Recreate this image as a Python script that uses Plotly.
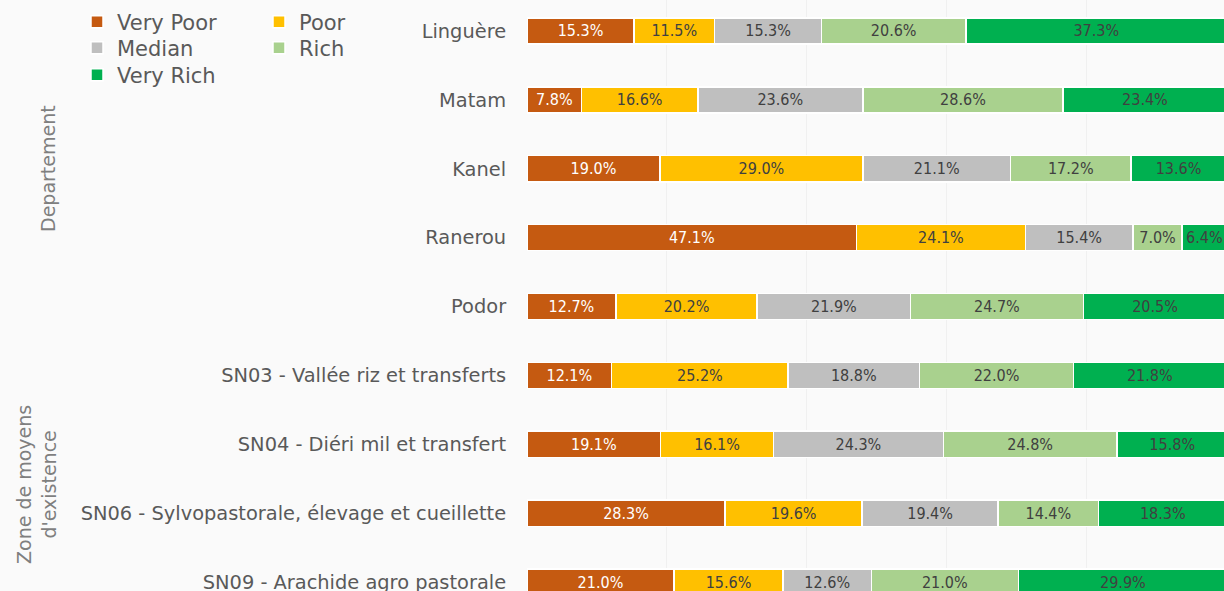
import plotly.graph_objects as go

categories = [
    "Linguère", "Matam", "Kanel", "Ranerou", "Podor",
    "SN03 - Vallée riz et transferts",
    "SN04 - Diéri mil et transfert",
    "SN06 - Sylvopastorale, élevage et cueillette",
    "SN09 - Arachide agro pastorale",
]
very_poor = [15.3, 7.8, 19.0, 47.1, 12.7, 12.1, 19.1, 28.3, 21.0]
poor      = [11.5, 16.6, 29.0, 24.1, 20.2, 25.2, 16.1, 19.6, 15.6]
median    = [15.3, 23.6, 21.1, 15.4, 21.9, 18.8, 24.3, 19.4, 12.6]
rich      = [20.6, 28.6, 17.2, 7.0, 24.7, 22.0, 24.8, 14.4, 21.0]
very_rich = [37.3, 23.4, 13.6, 6.4, 20.5, 21.8, 15.8, 18.3, 29.9]

series_names = ["Very Poor", "Poor", "Median", "Rich", "Very Rich"]
series_values = [very_poor, poor, median, rich, very_rich]
colors = ["#C55A11", "#FFC000", "#BFBFBF", "#A9D18E", "#00B050"]
label_colors = ["#FFFFFF", "#404040", "#404040", "#404040", "#404040"]
legend_ids = ["legend", "legend", "legend2", "legend2", "legend3"]

W, H = 1224, 591
L = 527

label_family = "DejaVu Sans Condensed, Liberation Sans Narrow, Roboto Condensed, sans-serif"

fig = go.Figure()
for name, vals, col, lc, lg in zip(series_names, series_values, colors, label_colors, legend_ids):
    fig.add_trace(go.Bar(
        y=categories, x=vals, name=name, orientation="h",
        marker=dict(color=col, line=dict(color="#FFFFFF", width=1.5)),
        text=[f"{v:.1f}%" for v in vals],
        textposition="inside", insidetextanchor="middle",
        textfont=dict(family=label_family, size=16, color=lc),
        legend=lg,
    ))

legend_font = dict(family="DejaVu Sans, Verdana, sans-serif", size=21, color="#595959")

def legend_row(y_px):
    return dict(xref="container", yref="container", x=77 / W, y=1 - y_px / H,
                xanchor="left", yanchor="middle", orientation="h", traceorder="normal",
                entrywidth=137, entrywidthmode="pixels",
                font=legend_font, bgcolor="rgba(0,0,0,0)")

fig.update_layout(
    width=W, height=H,
    margin=dict(l=L, r=0, t=0, b=0, autoexpand=False),
    paper_bgcolor="#FAFAFA", plot_bgcolor="#FAFAFA",
    barmode="stack", bargap=0.62,
    uniformtext=dict(minsize=15, mode="show"),
    legend=legend_row(22),
    legend2=legend_row(48),
    legend3=legend_row(75),
    xaxis=dict(range=[0, 99.6], dtick=20, showticklabels=False, showgrid=True,
               gridcolor="#F0F0F0", gridwidth=1, zeroline=False, showline=False,
               fixedrange=True),
    yaxis=dict(categoryorder="array", categoryarray=categories,
               range=[8.13, -0.45], showgrid=False, zeroline=False, showline=False,
               ticks="outside", ticklen=16, tickcolor="rgba(0,0,0,0)",
               tickfont=dict(family="DejaVu Sans, Verdana, sans-serif", size=19.4, color="#595959")),
    font=dict(family="DejaVu Sans, Verdana, sans-serif"),
)

plot_w = W - L
def px_x(px):
    return (px - L) / plot_w

def px_y(py):
    return 1 - py / H

title_font = dict(family="DejaVu Sans, Verdana, sans-serif", size=19, color="#7F7F7F")
fig.add_annotation(text="Departement", xref="paper", yref="paper",
                   x=px_x(48), y=px_y(169), textangle=-90, showarrow=False,
                   xanchor="center", yanchor="middle", font=title_font)
fig.add_annotation(text="Zone de moyens<br>d'existence", xref="paper", yref="paper",
                   x=px_x(36), y=px_y(485), textangle=-90, showarrow=False,
                   xanchor="center", yanchor="middle", font=title_font)

fig.write_html("out.html", config={"displayModeBar": False},
               post_script="document.body.style.margin='0';")
